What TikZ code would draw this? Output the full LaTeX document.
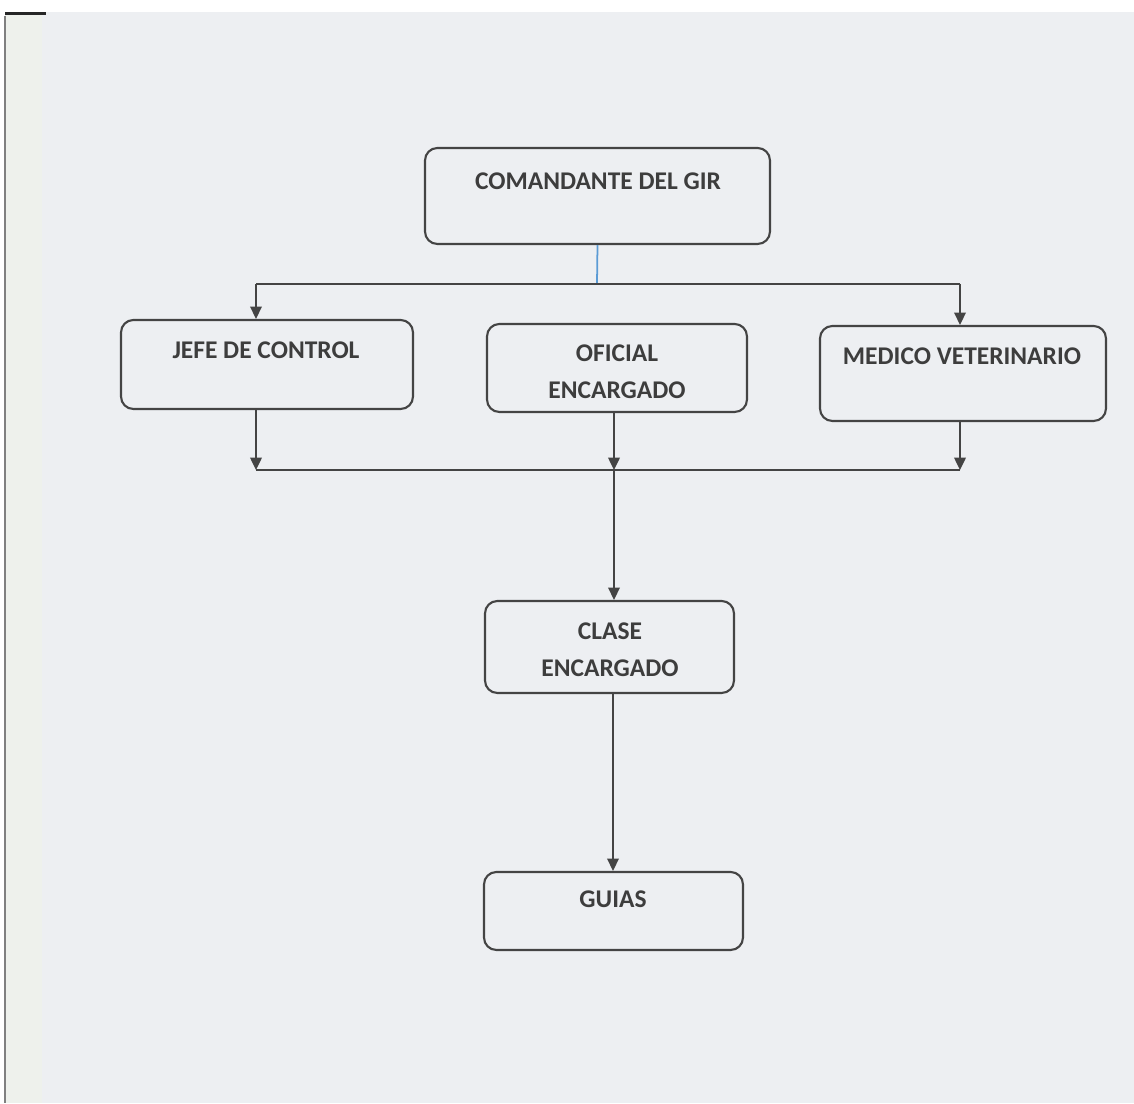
\documentclass[tikz,border=0pt]{standalone}
\usepackage{fontspec}
\setmainfont{Carlito}
\usepackage{xcolor}
\usetikzlibrary{positioning,calc,arrows.meta}

\definecolor{paper}{HTML}{EDEFF2}
\definecolor{strip}{HTML}{EEF1EC}
\definecolor{ink}{HTML}{444444}
\definecolor{linkblue}{HTML}{5B9BD5}

\tikzset{
    orgbox/.style={draw=ink, line width=1.2pt, rounded corners=7pt, inner sep=0pt},
    orgtext/.style={text=ink!90!black, font=\bfseries\fontsize{14.5}{21}\selectfont, align=center},
    line/.style={draw=ink, line width=1.2pt},
    arr/.style={line, -{Triangle[length=7pt,width=6.5pt]}},
}

\begin{document}
\begin{tikzpicture}[x=0.02cm, y=-0.02cm]
    % page
    \fill[white] (0,0) rectangle (1134,1104);
    \fill[paper] (5,12) rectangle (1134,1103);
    \fill[strip] (5,12) rectangle (42,1103);
    \draw[gray, line width=1pt] (5,16) -- (5,1103);
    \fill[black!85] (5,12) rectangle (46,15);

    % boxes
    \node[orgbox, minimum width=6.9cm, minimum height=1.92cm] (com) at (597.5,196) {};
    \node[orgbox, minimum width=5.84cm, minimum height=1.78cm] (jefe) at (267,364.5) {};
    \node[orgbox, minimum width=5.2cm, minimum height=1.76cm] (ofi) at (617,368) {};
    \node[orgbox, minimum width=5.72cm, minimum height=1.9cm] (med) at (963,373.5) {};
    \node[orgbox, minimum width=4.98cm, minimum height=1.84cm] (clase) at (609.5,647) {};
    \node[orgbox, minimum width=5.18cm, minimum height=1.56cm] (guias) at (613.5,911) {};

    % texts
    \node[orgtext] (tcom) at (598,181) {COMANDANTE DEL GIR};
    \node[orgtext] (tjefe) at (266,350) {JEFE DE CONTROL};
    \node[orgtext] (tofi) at (617,372) {OFICIAL\\ENCARGADO};
    \node[orgtext] (tmed) at (962,356) {MEDICO VETERINARIO};
    \node[orgtext] (tclase) at (610,650) {CLASE\\ENCARGADO};
    \node[orgtext] (tguias) at (613,899) {GUIAS};

    % upper bus
    \coordinate (busA) at (597,284);
    \coordinate (busAL) at (256,284);
    \coordinate (busAR) at (960,284);
    \draw[linkblue, line width=1pt] (com.south) -- (busA);
    \draw[line] (busAL) -- (busAR);
    \draw[arr] (busAL) -- (busAL |- jefe.north);
    \draw[arr] (busAR) -- (busAR |- med.north);

    % lower bus
    \coordinate (busBL) at (256,470);
    \coordinate (busBM) at (614,470);
    \coordinate (busBR) at (960,470);
    \draw[arr] (busBL |- jefe.south) -- (busBL);
    \draw[arr] (busBM |- ofi.south) -- (busBM);
    \draw[arr] (busBR |- med.south) -- (busBR);
    \draw[line] (busBL) -- (busBR);
    \draw[arr] (busBM) -- (busBM |- clase.north);

    % to guias
    \coordinate (down) at (613,693);
    \draw[arr] (down |- clase.south) -- (down |- guias.north);
\end{tikzpicture}
\end{document}
